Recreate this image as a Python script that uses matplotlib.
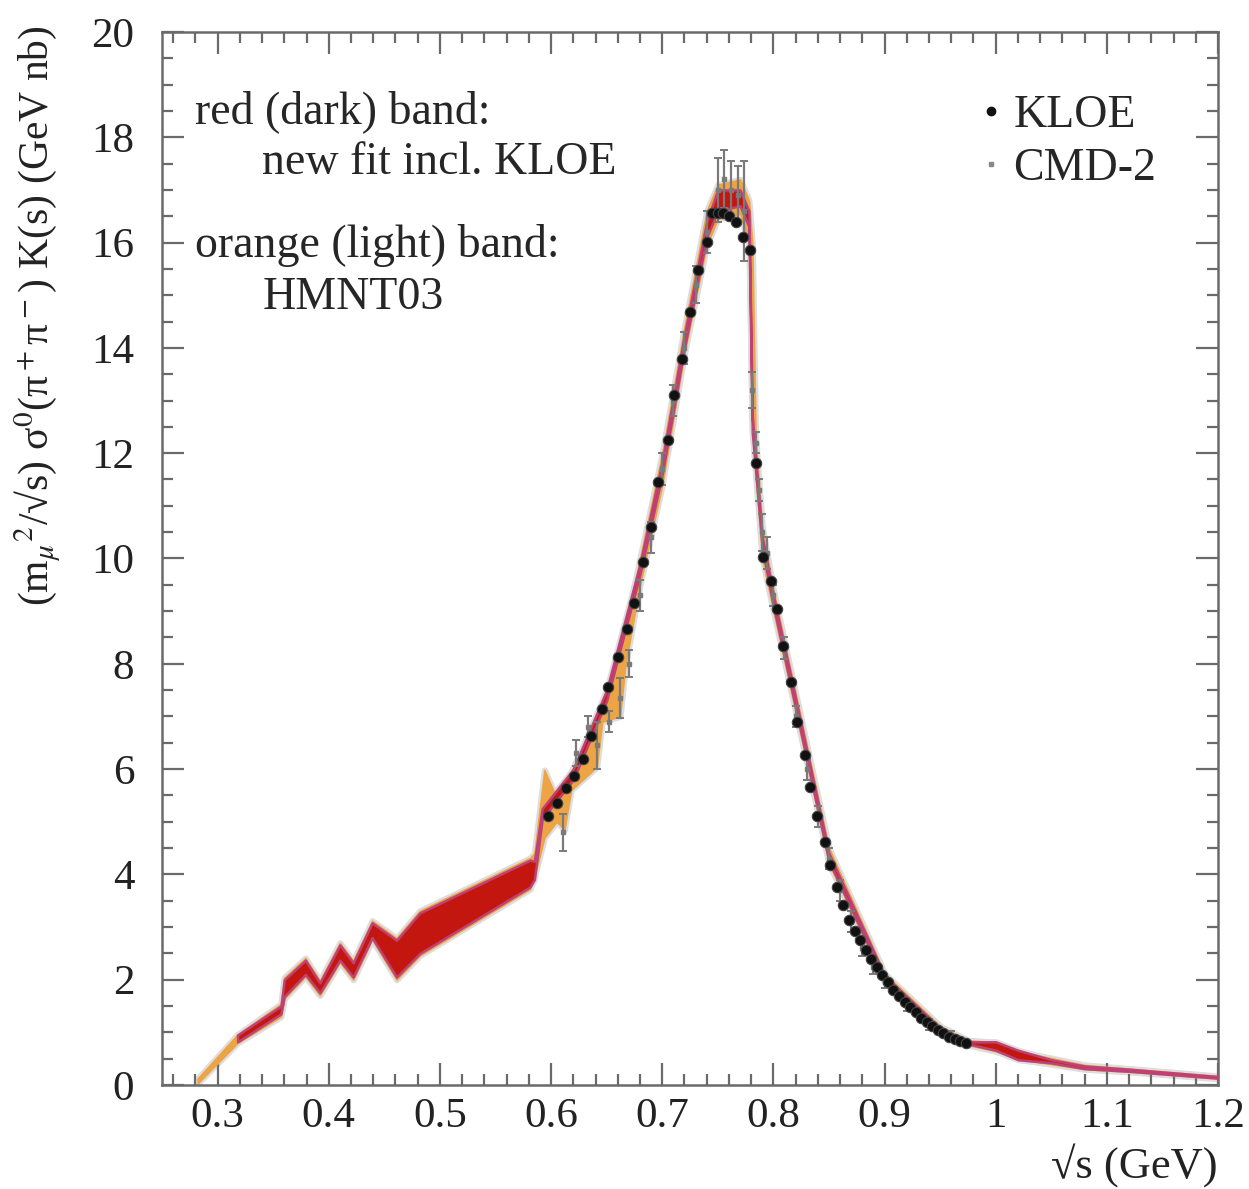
import matplotlib
matplotlib.use("Agg")
import matplotlib.pyplot as plt
from matplotlib.ticker import MultipleLocator, FixedLocator
from matplotlib.lines import Line2D

plt.rcParams['font.family'] = ['Liberation Serif', 'DejaVu Serif']
plt.rcParams['mathtext.fontset'] = 'stix'

# orange (light) band: HMNT03
hm_x = [0.282, 0.318, 0.357, 0.360, 0.379, 0.392, 0.410, 0.422, 0.439, 0.461, 0.482, 0.581,
        0.585, 0.594, 0.605, 0.612, 0.618, 0.641, 0.646, 0.662, 0.667, 0.680, 0.700, 0.720,
        0.740, 0.750, 0.770, 0.778, 0.781, 0.784, 0.790, 0.800, 0.850, 0.900, 0.950, 0.975,
        1.000, 1.020, 1.080, 1.120, 1.200]
hm_lo = [0.03, 0.80, 1.30, 1.64, 2.06, 1.70, 2.33, 2.00, 2.76, 2.00, 2.46, 3.72,
         3.95, 4.70, 5.00, 4.85, 5.60, 6.04, 6.90, 7.00, 8.00, 9.50, 11.40, 13.90,
         15.95, 16.45, 16.55, 16.00, 12.50, 11.60, 10.00, 9.00, 4.20, 1.95, 1.00, 0.76,
         0.64, 0.49, 0.30, 0.25, 0.12]
hm_hi = [0.12, 0.96, 1.54, 2.04, 2.41, 1.98, 2.70, 2.36, 3.12, 2.79, 3.31, 4.31,
         4.40, 5.98, 5.45, 5.75, 5.95, 6.95, 7.20, 8.30, 8.70, 10.00, 12.00, 14.40,
         16.60, 17.10, 17.20, 16.80, 16.00, 12.30, 10.60, 9.40, 4.50, 2.12, 1.12, 0.85,
         0.81, 0.64, 0.38, 0.31, 0.17]

# red (dark) band: new fit incl. KLOE
fit_x = [0.318, 0.357, 0.360, 0.379, 0.392, 0.410, 0.422, 0.439, 0.461, 0.482, 0.581,
         0.585, 0.592, 0.620, 0.650, 0.680, 0.700, 0.720, 0.740, 0.750, 0.770, 0.778,
         0.781, 0.790, 0.800, 0.850, 0.900, 0.950, 0.975, 1.000, 1.020, 1.050, 1.080,
         1.120, 1.200]
fit_lo = [0.82, 1.35, 1.68, 2.10, 1.75, 2.37, 2.05, 2.80, 2.05, 2.50, 3.76,
          3.90, 5.05, 5.80, 7.30, 9.70, 11.60, 14.00, 16.10, 16.60, 16.70, 16.30,
          12.40, 10.20, 9.10, 4.25, 2.00, 1.02, 0.78, 0.66, 0.48, 0.42, 0.31,
          0.26, 0.13]
fit_hi = [0.95, 1.50, 2.00, 2.37, 1.94, 2.66, 2.32, 3.08, 2.75, 3.27, 4.27,
          4.25, 5.25, 6.00, 7.50, 9.90, 11.85, 14.25, 16.40, 17.00, 17.00, 16.60,
          12.70, 10.40, 9.30, 4.40, 2.08, 1.08, 0.82, 0.82, 0.66, 0.48, 0.36,
          0.30, 0.16]

# KLOE points
kloe_x = [0.597, 0.605, 0.613, 0.621, 0.629, 0.636, 0.646, 0.651, 0.660, 0.668, 0.675, 0.683,
          0.690, 0.6965, 0.705, 0.711, 0.718, 0.725, 0.732, 0.740, 0.745, 0.750, 0.755, 0.760,
          0.766, 0.773, 0.779, 0.784, 0.791, 0.798, 0.8035, 0.809, 0.816, 0.8215, 0.828, 0.833,
          0.8395, 0.846, 0.851, 0.8575, 0.863, 0.868, 0.873, 0.878, 0.883, 0.888, 0.893, 0.898,
          0.903, 0.908, 0.913, 0.918, 0.923, 0.928, 0.933, 0.938, 0.943, 0.948, 0.953, 0.958,
          0.963, 0.968, 0.973]
kloe_y = [5.11, 5.36, 5.64, 5.87, 6.19, 6.63, 7.14, 7.56, 8.13, 8.66, 9.15, 9.93,
          10.60, 11.45, 12.25, 13.10, 13.79, 14.68, 15.48, 16.01, 16.56, 16.56, 16.56, 16.50,
          16.39, 16.10, 15.86, 11.81, 10.03, 9.57, 9.04, 8.34, 7.65, 6.89, 6.27, 5.66,
          5.11, 4.62, 4.18, 3.76, 3.42, 3.13, 2.93, 2.75, 2.56, 2.40, 2.24, 2.08,
          1.95, 1.81, 1.69, 1.58, 1.48, 1.38, 1.28, 1.20, 1.12, 1.04, 0.98, 0.92,
          0.87, 0.83, 0.79]

# CMD-2 points
cmd_x = [0.611, 0.622, 0.633, 0.641, 0.652, 0.662, 0.670, 0.680, 0.690, 0.700, 0.710, 0.720,
         0.730, 0.740, 0.750, 0.756, 0.762, 0.768, 0.774, 0.781, 0.784, 0.787, 0.790, 0.794,
         0.800, 0.810, 0.820, 0.830, 0.840, 0.850, 0.860, 0.870, 0.880, 0.890, 0.900, 0.920,
         0.940, 0.960]
cmd_y = [4.80, 6.30, 6.80, 6.45, 6.90, 7.35, 8.00, 9.30, 10.40, 11.70, 13.00, 14.00,
         15.20, 16.20, 17.00, 17.20, 17.00, 16.90, 16.60, 13.20, 12.20, 11.30, 10.50, 10.10,
         9.30, 8.30, 7.00, 6.00, 5.10, 4.30, 3.70, 3.10, 2.60, 2.25, 1.95, 1.50,
         1.15, 0.95]
cmd_err = [0.35, 0.25, 0.20, 0.45, 0.20, 0.38, 0.26, 0.30, 0.30, 0.30, 0.30, 0.30,
           0.35, 0.40, 0.60, 0.55, 0.55, 0.55, 0.95, 0.35, 0.20, 0.20, 0.35, 0.30,
           0.20, 0.20, 0.20, 0.20, 0.20, 0.20, 0.20, 0.20, 0.15, 0.15, 0.10, 0.10,
           0.10, 0.08]

x_ticks = [0.3, 0.4, 0.5, 0.6, 0.7, 0.8, 0.9, 1.0, 1.1, 1.2]
x_labels = ['0.3', '0.4', '0.5', '0.6', '0.7', '0.8', '0.9', '1', '1.1', '1.2']
y_ticks = [0, 2, 4, 6, 8, 10, 12, 14, 16, 18, 20]

fig = plt.figure(figsize=(12.49, 11.89), dpi=100)
ax = fig.add_axes([0.1297, 0.0875, 0.8455, 0.8856])

# gray halo, orange band, red band
halo = '#dddddd'
ax.fill_between(hm_x, hm_lo, hm_hi, facecolor=halo, edgecolor=halo, linewidth=4.5, zorder=1)
ax.fill_between(fit_x, fit_lo, fit_hi, facecolor=halo, edgecolor=halo, linewidth=4.5, zorder=1)
ax.fill_between(hm_x, hm_lo, hm_hi, facecolor='#eda444', edgecolor='#eda444', linewidth=1.2, zorder=2)
ax.fill_between(fit_x, fit_lo, fit_hi, facecolor='#c3160e', edgecolor='#bf4276', linewidth=1.8, zorder=3)

# data
ax.errorbar(cmd_x, cmd_y, yerr=cmd_err, fmt='s', color='#7a7a7a', ms=2.5, elinewidth=1.6,
            capsize=3, capthick=1.4, zorder=4)
ax.plot(kloe_x, kloe_y, 'o', color='#111111', ms=7.5, mec='#444444', mew=0.8, zorder=5)

ax.set_xlim(0.25, 1.2)
ax.set_ylim(0, 20)
ax.xaxis.set_major_locator(FixedLocator(x_ticks))
ax.set_xticklabels(x_labels)
ax.yaxis.set_major_locator(FixedLocator(y_ticks))
ax.xaxis.set_minor_locator(MultipleLocator(0.02))
ax.yaxis.set_minor_locator(MultipleLocator(0.5))
ax.tick_params(which='both', direction='in', top=True, right=True, colors='#6a6a6a',
               labelcolor='#222222', labelsize=31, width=1.6)
ax.tick_params(which='major', length=16)
ax.tick_params(axis='x', which='major', pad=9)
ax.tick_params(axis='y', which='major', pad=20)
ax.tick_params(which='minor', length=8)
for s in ax.spines.values():
    s.set_color('#6a6a6a')
    s.set_linewidth(1.8)

ax.set_ylabel('(m$_\\mu$$^2$/√s) σ$^0$(π$^+$π$^-$) K(s) (GeV nb)',
              fontsize=30, color='#222222', loc='top')
ax.yaxis.set_label_coords(-0.094, 1.006)
ax.set_xlabel('√s (GeV)', fontsize=32, color='#222222', loc='right', labelpad=6)

tc = '#262626'
ax.text(0.031, 0.924, 'red (dark) band:', transform=ax.transAxes, fontsize=33, color=tc, va='center')
ax.text(0.095, 0.8756, 'new fit incl. KLOE', transform=ax.transAxes, fontsize=33, color=tc, va='center')
ax.text(0.031, 0.7977, 'orange (light) band:', transform=ax.transAxes, fontsize=33, color=tc, va='center')
ax.text(0.095, 0.748, 'HMNT03', transform=ax.transAxes, fontsize=33, color=tc, va='center')

handles = [Line2D([], [], ls='none', marker='o', color='#111111', ms=6),
           Line2D([], [], ls='none', marker='s', color='#888888', ms=3)]
leg = ax.legend(handles, ['KLOE', 'CMD-2'], loc='upper right', bbox_to_anchor=(0.959, 0.958),
                frameon=False, fontsize=33, handlelength=0.4, handletextpad=0.3,
                labelspacing=0.22, borderaxespad=0)
for t in leg.get_texts():
    t.set_color(tc)

fig.savefig('out.png', dpi=100)
